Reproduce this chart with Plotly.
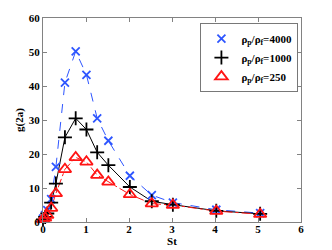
import plotly.graph_objects as go

st = [0.0, 0.05, 0.1, 0.19, 0.3, 0.51, 0.76, 1.01, 1.26, 1.52, 2.02, 2.53, 3.02, 4.03, 5.05]
g_4000 = [1.0, 2.0, 3.5, 6.7, 16.2, 41.0, 50.2, 43.3, 30.5, 23.9, 13.6, 7.9, 5.7, 3.6, 2.6]
g_1000 = [0.8, 1.5, 2.5, 5.7, 11.3, 24.9, 30.5, 27.2, 20.5, 16.7, 10.3, 6.1, 5.1, 3.3, 2.4]
g_250 = [0.8, 1.2, 2.0, 4.1, 8.4, 15.5, 19.0, 17.7, 13.8, 11.8, 8.1, 5.4, 5.0, 3.2, 2.3]
names = ["ρ<sub>p</sub>/ρ<sub>f</sub>=4000", "ρ<sub>p</sub>/ρ<sub>f</sub>=1000", "ρ<sub>p</sub>/ρ<sub>f</sub>=250"]
x_ticks = [0, 1, 2, 3, 4, 5, 6]
y_ticks = [0, 10, 20, 30, 40, 50, 60]

blue = "rgb(45,85,255)"
red = "rgb(255,20,20)"

series = [
    (g_4000, names[0], blue, "dash", "x-thin-open", 8),
    (g_1000, names[1], "black", "solid", "cross-thin-open", 10),
    (g_250, names[2], red, "dashdot", "triangle-up-open", 11),
]

fig = go.Figure()
for ys, nm, col, dash, sym, sz in series:
    fig.add_trace(go.Scatter(x=st, y=ys, mode="lines", showlegend=False, hoverinfo="skip",
                             line=dict(color=col, width=1, dash=dash)))
for ys, nm, col, dash, sym, sz in series:
    fig.add_trace(go.Scatter(x=st, y=ys, name=nm, mode="markers", cliponaxis=False,
                             marker=dict(symbol=sym, size=sz, line=dict(color=col, width=1.8), color=col)))

axis_common = dict(showgrid=False, zeroline=False, mirror="ticks", ticks="inside", ticklen=4,
                   automargin=False,
                   linecolor="rgb(130,130,130)", linewidth=1, tickcolor="rgb(130,130,130)",
                   tickfont=dict(family="Liberation Serif", size=11, color="black", weight="bold"))
# page body has an 8px default margin, so the figure is sized to fit the 332x250 window
fig.update_layout(
    width=324, height=242,
    margin=dict(l=35, r=31, t=10, b=28),
    paper_bgcolor="white", plot_bgcolor="white",
    font=dict(family="Liberation Serif", size=11, color="black"),
    showlegend=True,
    legend=dict(x=0.99, y=0.975, xanchor="right", yanchor="top",
                bordercolor="rgb(120,120,120)", borderwidth=1, bgcolor="white",
                font=dict(family="Liberation Serif", size=11, color="black", weight="bold"),
                itemwidth=30, tracegroupgap=0),
    xaxis=dict(range=[0, 6], tickvals=x_ticks, ticklabelstandoff=-3, **axis_common,
               title=dict(text="<b>St</b>", standoff=0, font=dict(family="Liberation Serif", size=11))),
    yaxis=dict(range=[0, 60], tickvals=y_ticks, **axis_common,
               title=dict(text="<b>g(2a)</b>", standoff=2, font=dict(family="Liberation Serif", size=11))),
)
fig.write_html("out.html")
